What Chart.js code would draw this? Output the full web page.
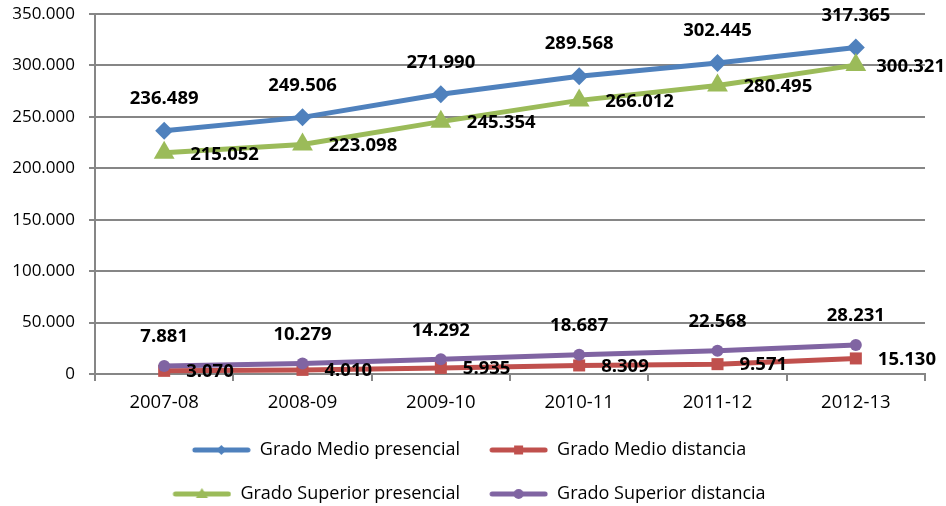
<!DOCTYPE html>
<html>
<head>
<meta charset="utf-8">
<script src="https://cdn.jsdelivr.net/npm/chart.js@4.4.1/dist/chart.umd.min.js"></script>
<style>
html,body{margin:0;padding:0;background:#ffffff;}
#wrap{width:946px;height:506px;}
</style>
</head>
<body>
<div id="wrap"><canvas id="c" width="946" height="506"></canvas></div>
<script>
const categories = ['2007-08', '2008-09', '2009-10', '2010-11', '2011-12', '2012-13'];
const seriesNames = ['Grado Medio presencial', 'Grado Medio distancia', 'Grado Superior presencial', 'Grado Superior distancia'];
const medioPresencial = [236489, 249506, 271990, 289568, 302445, 317365];
const medioDistancia = [3070, 4010, 5935, 8309, 9571, 15130];
const superiorPresencial = [215052, 223098, 245354, 266012, 280495, 300321];
const superiorDistancia = [7881, 10279, 14292, 18687, 22568, 28231];
const yTickValues = [0, 50000, 100000, 150000, 200000, 250000, 300000, 350000];

const FONT = "'Open Sans'";
const colors = ['#4F81BD', '#C0504D', '#9BBB59', '#8064A2'];
const markerStyles = ['rectRot', 'rect', 'triangle', 'circle'];
const markerRadius = [9, 8.5, 12, 6];
const seriesData = [medioPresencial, medioDistancia, superiorPresencial, superiorDistancia];
// label placement style per series
const labelPlacement = [
  {side: 'above', dy: -32},
  {side: 'right', dx: 22, dy: 1},
  {side: 'right', dx: 26, dy: 1.5},
  {side: 'above', dy: -29}
];

function fmt(v) {
  return String(v).replace(/\B(?=(\d{3})+(?!\d))/g, '.');
}

function legendSymbol(color, style) {
  const c = document.createElement('canvas');
  c.width = 62; c.height = 20;
  const g = c.getContext('2d');
  g.strokeStyle = color; g.fillStyle = color;
  g.lineWidth = 5; g.lineCap = 'round';
  g.beginPath(); g.moveTo(6, 10); g.lineTo(59, 10); g.stroke();
  const cx = 32.5, cy = 10;
  g.beginPath();
  if (style === 'rectRot') {
    g.moveTo(cx, cy - 5); g.lineTo(cx + 5, cy); g.lineTo(cx, cy + 5); g.lineTo(cx - 5, cy); g.closePath();
  } else if (style === 'rect') {
    g.rect(cx - 4.5, cy - 4.5, 9, 9);
  } else if (style === 'triangle') {
    g.moveTo(cx, cy - 6); g.lineTo(cx + 6, cy + 4); g.lineTo(cx - 6, cy + 4); g.closePath();
  } else {
    g.arc(cx, cy, 5, 0, Math.PI * 2);
  }
  g.fill();
  return c;
}
const legendSymbols = colors.map((c, i) => legendSymbol(c, markerStyles[i]));

const valueLabels = {
  id: 'valueLabels',
  afterDatasetsDraw(chart) {
    const ctx = chart.ctx;
    ctx.save();
    ctx.font = "bold 18.5px " + FONT;
    ctx.fillStyle = '#000000';
    ctx.textBaseline = 'middle';
    ctx.textAlign = 'left';
    chart.data.datasets.forEach((ds, i) => {
      const meta = chart.getDatasetMeta(i);
      const pl = labelPlacement[i];
      meta.data.forEach((pt, j) => {
        const txt = fmt(ds.data[j]);
        const w = ctx.measureText(txt).width;
        let x;
        if (pl.side === 'above') {
          x = pt.x - w / 2;
        } else {
          x = pt.x + pl.dx;
          if (x + w > chart.width - 1) x = chart.width - 1 - w;
        }
        ctx.fillText(txt, x, pt.y + pl.dy);
      });
    });
    ctx.restore();
  }
};

Chart.defaults.font.family = FONT;
Chart.defaults.color = '#000000';

new Chart(document.getElementById('c'), {
  type: 'line',
  data: {
    labels: categories,
    datasets: seriesData.map((d, i) => ({
      label: seriesNames[i],
      data: d,
      borderColor: colors[i],
      backgroundColor: colors[i],
      borderWidth: 5,
      pointStyle: markerStyles[i],
      pointRadius: markerRadius[i],
      pointHoverRadius: markerRadius[i],
      pointBorderWidth: 0,
      pointBackgroundColor: colors[i],
      tension: 0,
      fill: false,
      clip: false,
      order: 3 - i
    }))
  },
  options: {
    responsive: false,
    animation: false,
    devicePixelRatio: 1,
    layout: {padding: {left: 10, right: 21, top: 14, bottom: -7}},
    plugins: {
      tooltip: {enabled: false},
      legend: {
        position: 'bottom',
        align: 'center',
        labels: {
          usePointStyle: true,
          pointStyleWidth: 62,
          padding: 26,
          color: '#000000',
          font: {family: FONT, size: 18},
          generateLabels() {
            return seriesNames.map((t, i) => ({
              text: t,
              pointStyle: legendSymbols[i],
              fillStyle: colors[i],
              strokeStyle: colors[i],
              lineWidth: 0,
              hidden: false,
              datasetIndex: i,
              fontColor: '#000000'
            }));
          }
        }
      }
    },
    scales: {
      x: {
        type: 'category',
        offset: true,
        grid: {display: true, drawOnChartArea: false, drawTicks: true, tickLength: 7, offset: true, color: '#868686', lineWidth: 2},
        border: {display: true, color: '#868686', width: 2},
        ticks: {font: {family: FONT, size: 18.5}, color: '#000000', padding: 11, maxRotation: 0},
        afterFit(s) { s.height = 41; }
      },
      y: {
        min: 0,
        max: 350000,
        afterBuildTicks(s) { s.ticks = yTickValues.map(v => ({value: v})); },
        grid: {color: '#868686', lineWidth: 2, tickLength: 6, drawTicks: true},
        border: {display: true, color: '#868686', width: 2},
        ticks: {font: {family: FONT, size: 17}, color: '#000000', padding: 14, callback: v => fmt(v)},
        afterFit(s) { s.width = 85; s.paddingTop = 0; s.paddingBottom = 0; }
      }
    }
  },
  plugins: [valueLabels]
});
</script>
</body>
</html>
